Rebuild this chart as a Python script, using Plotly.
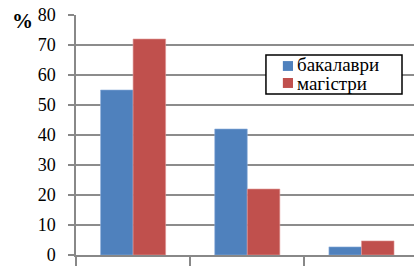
import plotly.graph_objects as go

categories = ["A", "B", "C"]
bachelors = [55, 42, 2.7]
masters = [72, 22, 4.7]
series_names = ["бакалаври", "магістри"]
series_colors = ["#4F81BD", "#C0504D"]
y_ticks = [0, 10, 20, 30, 40, 50, 60, 70, 80]

SERIF = "Liberation Serif, Times New Roman, serif"

fig = go.Figure()
fig.add_trace(go.Bar(x=[0, 1, 2], y=bachelors, name=series_names[0],
                     marker=dict(color=series_colors[0], line=dict(color="#8FAEDB", width=0.6))))
fig.add_trace(go.Bar(x=[0, 1, 2], y=masters, name=series_names[1],
                     marker=dict(color=series_colors[1], line=dict(color="#E09A98", width=0.6))))

fig.update_layout(
    width=414, height=267,
    margin=dict(l=76, r=0, t=15, b=12),
    paper_bgcolor="white", plot_bgcolor="white",
    barmode="group", bargap=0.43, bargroupgap=0,
    font=dict(family=SERIF, size=16, color="black"),
    showlegend=False,
)
fig.update_xaxes(
    range=[-0.5, 2.46], showgrid=False, zeroline=False,
    showline=True, linecolor="#888888", linewidth=1.5,
    tickmode="array", tickvals=[-0.5, 0.5, 1.5], ticktext=["", "", ""],
    ticks="outside", ticklen=9, tickcolor="#888888", tickwidth=1.5,
    showticklabels=False,
)
fig.update_yaxes(
    range=[0, 80], tickvals=y_ticks,
    showgrid=True, gridcolor="#8C8C8C", gridwidth=1.5,
    zeroline=False, showline=True, linecolor="#888888", linewidth=1.5,
    ticks="outside", ticklen=6, tickcolor="#888888", tickwidth=1.5,
    ticklabelstandoff=9,
    tickfont=dict(family=SERIF, size=18, color="black"),
)

# legend box (drawn as shapes + text)
fig.add_shape(type="rect", xref="paper", yref="paper",
              x0=0.562, x1=0.9645, y0=0.671, y1=0.833,
              line=dict(color="black", width=1.5), fillcolor="white", layer="above")
leg_rows = [(0.808, 0.767, 0.792), (0.7375, 0.696, 0.713)]
for (ya, yb, yt), name, col in zip(leg_rows, series_names, series_colors):
    fig.add_shape(type="rect", xref="paper", yref="paper",
                  x0=0.612, x1=0.642, y0=yb, y1=ya,
                  line=dict(width=0), fillcolor=col, layer="above")
    fig.add_annotation(text=name, xref="paper", yref="paper",
                       x=0.651, y=yt, xanchor="left", yanchor="middle",
                       showarrow=False, borderpad=0,
                       font=dict(family=SERIF, size=19, color="black"))

fig.add_annotation(text="<b>%</b>", xref="paper", yref="paper",
                   x=-0.12, y=0.975, xanchor="right", yanchor="middle",
                   showarrow=False,
                   font=dict(family=SERIF, size=21, color="black"))

fig.write_html("out.html", config={"displayModeBar": False},
               post_script="document.body.style.margin='0';document.body.style.overflow='hidden';")
